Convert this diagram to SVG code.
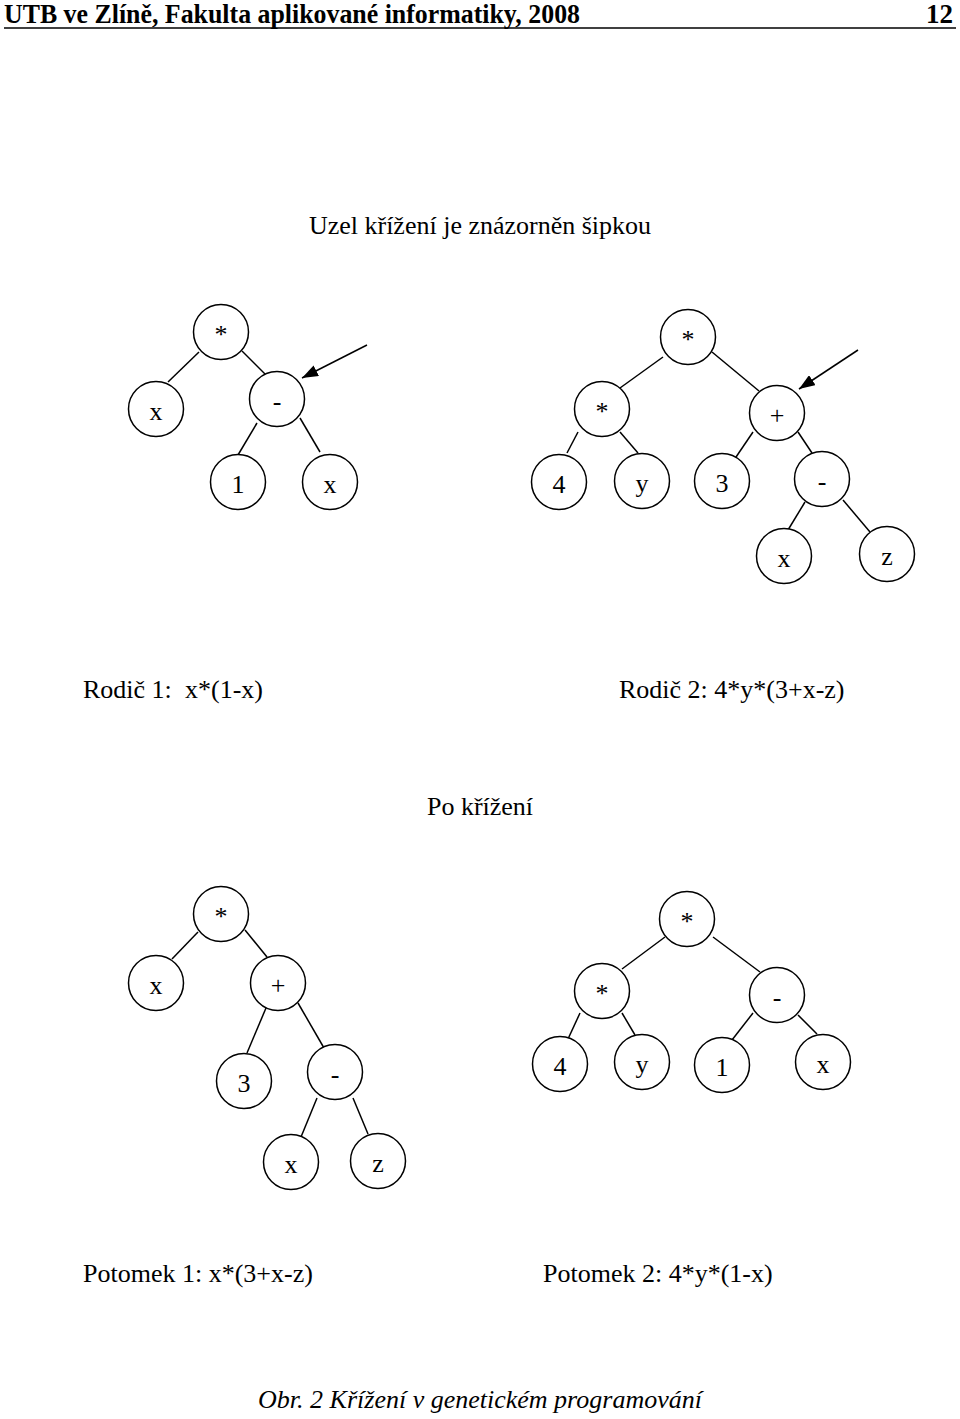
<svg xmlns="http://www.w3.org/2000/svg" width="960" height="1419" viewBox="0 0 960 1419">
<style>
.n circle{fill:#fff;stroke:#000;stroke-width:1.5}
.n text,.t{font-family:"Liberation Serif","Times New Roman",serif;font-size:26px;fill:#000}
.n text{text-anchor:middle}
.e line{stroke:#000;stroke-width:1.5}
.h{font-family:"Liberation Serif","Times New Roman",serif;font-weight:bold;font-size:27px;fill:#000}
</style>
<defs>
<marker id="ah" markerUnits="userSpaceOnUse" markerWidth="17" markerHeight="12" refX="16" refY="6" orient="auto">
<path d="M0,0 L16,6 L0,12 z" fill="#000"/>
</marker>
</defs>
<rect width="960" height="1419" fill="#fff"/>
<g id="header">
<text class="h" x="4" y="23" textLength="576" lengthAdjust="spacingAndGlyphs">UTB ve Zlíně, Fakulta aplikované informatiky, 2008</text>
<text class="h" x="953" y="23" text-anchor="end">12</text>
<line x1="4" y1="28" x2="956" y2="28" stroke="#000" stroke-width="1.5"/>
</g>
<text class="t" x="480" y="234" text-anchor="middle">Uzel křížení je znázorněn šipkou</text>
<g id="connectors" class="e">
<line x1="199" y1="352" x2="168" y2="382"/>
<line x1="242" y1="351" x2="265" y2="374"/>
<line x1="257" y1="423" x2="238" y2="455"/>
<line x1="300" y1="418" x2="320" y2="452"/>
<line x1="367" y1="345" x2="302" y2="378" marker-end="url(#ah)"/>
<line x1="663" y1="357" x2="620" y2="388"/>
<line x1="712" y1="352" x2="759" y2="391"/>
<line x1="578" y1="432" x2="567" y2="453"/>
<line x1="620" y1="432" x2="638" y2="453"/>
<line x1="753" y1="432" x2="734" y2="460"/>
<line x1="798" y1="432" x2="812" y2="453"/>
<line x1="805" y1="502" x2="788" y2="530"/>
<line x1="843" y1="500" x2="870" y2="532"/>
<line x1="858" y1="350" x2="799" y2="389" marker-end="url(#ah)"/>
<line x1="198" y1="932" x2="172" y2="959"/>
<line x1="245" y1="930" x2="267" y2="957"/>
<line x1="266" y1="1008" x2="247" y2="1053"/>
<line x1="298" y1="1003" x2="324" y2="1048"/>
<line x1="317" y1="1098" x2="301" y2="1137"/>
<line x1="353" y1="1098" x2="368" y2="1134"/>
<line x1="665" y1="937" x2="622" y2="969"/>
<line x1="713" y1="937" x2="760" y2="972"/>
<line x1="580" y1="1013" x2="568" y2="1039"/>
<line x1="622" y1="1013" x2="635" y2="1035"/>
<line x1="753" y1="1013" x2="732" y2="1040"/>
<line x1="798" y1="1015" x2="817" y2="1034"/>
</g>
<!-- Tree 1 -->
<g id="p1_root" class="n"><circle cx="221" cy="332" r="27.5"/><text x="221" y="343">*</text></g>
<g id="p1_x" class="n"><circle cx="156" cy="409" r="27.5"/><text x="156" y="420">x</text></g>
<g id="p1_minus" class="n"><circle cx="277" cy="399" r="27.5"/><text x="277" y="410">-</text></g>
<g id="p1_1" class="n"><circle cx="238" cy="482" r="27.5"/><text x="238" y="493">1</text></g>
<g id="p1_x2" class="n"><circle cx="330" cy="482" r="27.5"/><text x="330" y="493">x</text></g>
<!-- Tree 2 -->
<g id="p2_root" class="n"><circle cx="688" cy="337" r="27.5"/><text x="688" y="348">*</text></g>
<g id="p2_mul" class="n"><circle cx="602" cy="409" r="27.5"/><text x="602" y="420">*</text></g>
<g id="p2_plus" class="n"><circle cx="777" cy="413" r="27.5"/><text x="777" y="424">+</text></g>
<g id="p2_4" class="n"><circle cx="559" cy="482" r="27.5"/><text x="559" y="493">4</text></g>
<g id="p2_y" class="n"><circle cx="642" cy="481" r="27.5"/><text x="642" y="492">y</text></g>
<g id="p2_3" class="n"><circle cx="722" cy="481" r="27.5"/><text x="722" y="492">3</text></g>
<g id="p2_minus" class="n"><circle cx="822" cy="479" r="27.5"/><text x="822" y="490">-</text></g>
<g id="p2_x" class="n"><circle cx="784" cy="556" r="27.5"/><text x="784" y="567">x</text></g>
<g id="p2_z" class="n"><circle cx="887" cy="554" r="27.5"/><text x="887" y="565">z</text></g>
<text class="t" x="83" y="698">Rodič 1:</text>
<text class="t" x="185" y="698">x*(1-x)</text>
<text class="t" x="619" y="698">Rodič 2: 4*y*(3+x-z)</text>
<text class="t" x="480" y="815" text-anchor="middle">Po křížení</text>
<!-- Tree 3 -->
<g id="c1_root" class="n"><circle cx="221" cy="914" r="27.5"/><text x="221" y="925">*</text></g>
<g id="c1_x" class="n"><circle cx="156" cy="983" r="27.5"/><text x="156" y="994">x</text></g>
<g id="c1_plus" class="n"><circle cx="278" cy="983" r="27.5"/><text x="278" y="994">+</text></g>
<g id="c1_3" class="n"><circle cx="244" cy="1081" r="27.5"/><text x="244" y="1092">3</text></g>
<g id="c1_minus" class="n"><circle cx="335" cy="1072" r="27.5"/><text x="335" y="1083">-</text></g>
<g id="c1_x2" class="n"><circle cx="291" cy="1162" r="27.5"/><text x="291" y="1173">x</text></g>
<g id="c1_z" class="n"><circle cx="378" cy="1161" r="27.5"/><text x="378" y="1172">z</text></g>
<!-- Tree 4 -->
<g id="c2_root" class="n"><circle cx="687" cy="919" r="27.5"/><text x="687" y="930">*</text></g>
<g id="c2_mul" class="n"><circle cx="602" cy="991" r="27.5"/><text x="602" y="1002">*</text></g>
<g id="c2_minus" class="n"><circle cx="777" cy="995" r="27.5"/><text x="777" y="1006">-</text></g>
<g id="c2_4" class="n"><circle cx="560" cy="1064" r="27.5"/><text x="560" y="1075">4</text></g>
<g id="c2_y" class="n"><circle cx="642" cy="1062" r="27.5"/><text x="642" y="1073">y</text></g>
<g id="c2_1" class="n"><circle cx="722" cy="1065" r="27.5"/><text x="722" y="1076">1</text></g>
<g id="c2_x" class="n"><circle cx="823" cy="1062" r="27.5"/><text x="823" y="1073">x</text></g>
<text class="t" x="83" y="1282">Potomek 1: x*(3+x-z)</text>
<text class="t" x="543" y="1282">Potomek 2: 4*y*(1-x)</text>
<text class="t" x="480" y="1408" text-anchor="middle" font-style="italic">Obr. 2 Křížení v genetickém programování</text>
</svg>
